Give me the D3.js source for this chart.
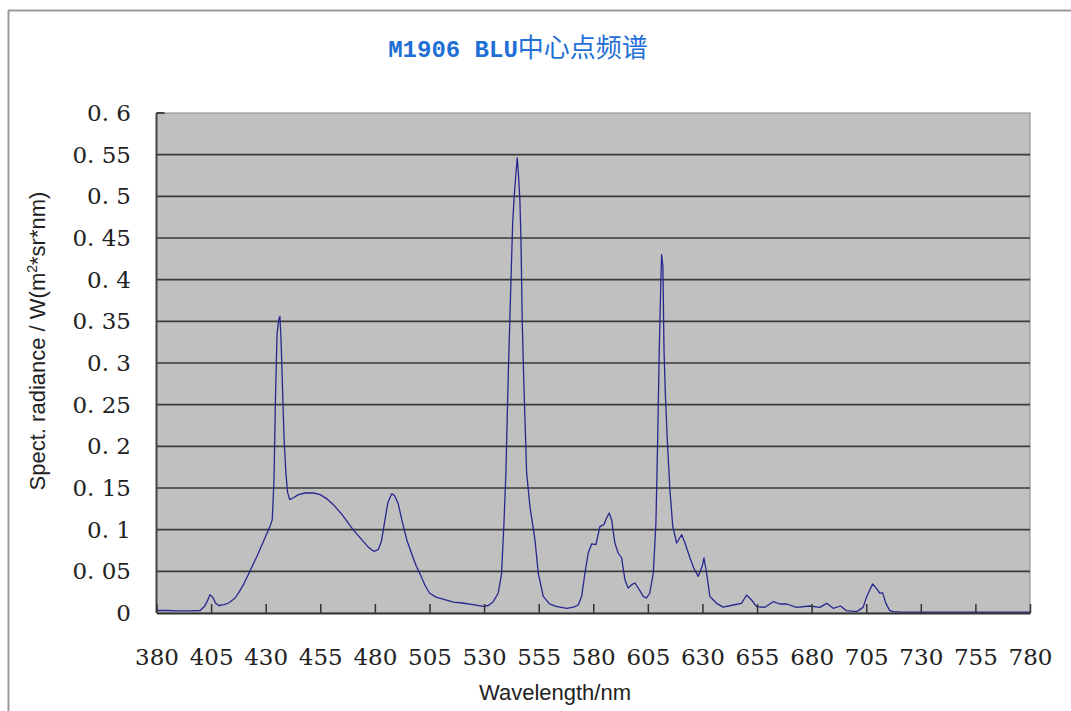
<!DOCTYPE html>
<html>
<head>
<meta charset="utf-8">
<script src="https://cdn.jsdelivr.net/npm/d3@7"></script>
<style>
  html, body { margin: 0; padding: 0; background: #fff; }
  svg { display: block; }
</style>
</head>
<body>
<svg id="chart" width="1071" height="711"></svg>
<script>
// spectrum readings, wavelength (nm) and radiance
const wavelengths = [
  380, 385, 390, 395, 400, 402, 403, 404.5, 406, 407, 408.5, 411, 413, 416, 418, 420,
  422, 424, 426, 428, 430, 432, 433, 433.8, 434.5, 435.2, 436, 436.5, 437, 437.6, 438.4,
  439.2, 440, 441, 442.5, 445, 448, 452, 455, 458, 461, 465, 470, 474, 477, 479.5, 481.5,
  483, 484.5, 486, 487.7, 489, 490.7, 492.5, 494.6, 497, 499, 501, 503, 505, 508, 512,
  516, 520, 525, 529.6, 532, 534.2, 536.5, 538, 539.1, 540, 541.1, 542.2, 543.1, 543.8,
  544.6, 545.2, 545.7, 546.4, 546.9, 547.5, 548.3, 549.5, 551, 553.3, 554.8, 557.1, 560,
  563, 567.8, 571, 573.1, 574.7, 576.2, 577.7, 579.3, 581.2, 583.1, 584.9, 586.1, 587.3,
  588.4, 589.9, 591.4, 593, 594.5, 596, 597.6, 599.1, 600.6, 602.9, 604.4, 605.9, 607.5,
  608.7, 609.5, 610.2, 610.9, 611.3, 611.9, 612.4, 613, 613.9, 615.1, 616.4, 618.2, 620.5,
  622, 624.3, 626, 628.1, 629.9, 630.7, 631.9, 633.4, 634.2, 636.5, 639.5, 644.1, 647.9,
  650.2, 652.5, 654.8, 658.6, 662.4, 665.5, 668.6, 673.1, 679.2, 683.8, 686.9, 689.9,
  693.2, 696, 700.6, 703.6, 705.2, 707.9, 709.7, 711.3, 712.5, 714, 715.8, 717.4, 720,
  740, 760, 780
];
const radiance = [
  0.003, 0.003, 0.0025, 0.0025, 0.003, 0.008, 0.013, 0.022, 0.018, 0.012, 0.009, 0.010, 0.012, 0.018, 0.026, 0.035,
  0.046, 0.057, 0.068, 0.080, 0.092, 0.104, 0.112, 0.16, 0.26, 0.335, 0.352, 0.356, 0.33, 0.28, 0.21,
  0.17, 0.145, 0.136, 0.138, 0.142, 0.144, 0.144, 0.142, 0.137, 0.130, 0.118, 0.100, 0.088, 0.079, 0.074, 0.076,
  0.086, 0.110, 0.133, 0.143, 0.141, 0.131, 0.110, 0.088, 0.070, 0.056, 0.045, 0.033, 0.024, 0.019, 0.016,
  0.013, 0.012, 0.010, 0.008, 0.009, 0.0136, 0.024, 0.047, 0.107, 0.168, 0.288, 0.388, 0.468, 0.50,
  0.528, 0.546, 0.528, 0.496, 0.448, 0.348, 0.268, 0.168, 0.128, 0.088, 0.048, 0.020, 0.011,
  0.008, 0.0056, 0.007, 0.0096, 0.020, 0.048, 0.072, 0.083, 0.082, 0.104, 0.106, 0.114, 0.120,
  0.112, 0.084, 0.072, 0.066, 0.040, 0.030, 0.034, 0.036, 0.030, 0.020, 0.018, 0.024, 0.048,
  0.108, 0.208, 0.312, 0.392, 0.430, 0.416, 0.316, 0.264, 0.208, 0.148, 0.104, 0.084, 0.094,
  0.084, 0.066, 0.054, 0.044, 0.056, 0.066, 0.048, 0.020, 0.0176, 0.0116, 0.007, 0.0096, 0.0116,
  0.0216, 0.0156, 0.0076, 0.0068, 0.0136, 0.0108, 0.0108, 0.0068, 0.0084, 0.0068, 0.0116, 0.0056,
  0.0084, 0.0028, 0.0016, 0.0068, 0.0196, 0.0348, 0.0296, 0.0236, 0.0244, 0.0116, 0.0028, 0.0016, 0.0012,
  0.001, 0.001, 0.001
];

const xTicks = d3.range(380, 781, 25);
const yTicks = d3.range(0, 13).map(i => i * 0.05);
const yTickLabels = ["0", "0. 05", "0. 1", "0. 15", "0. 2", "0. 25", "0. 3",
  "0. 35", "0. 4", "0. 45", "0. 5", "0. 55", "0. 6"];

const plot = { left: 156.5, right: 1030, top: 113, bottom: 613 };

const svg = d3.select('#chart');

// outer frame (top and left edges only show)
svg.append('line')
  .attr('x1', 8).attr('x2', 1071).attr('y1', 10.5).attr('y2', 10.5)
  .attr('stroke', '#9a9a9a').attr('stroke-width', 2);
svg.append('line')
  .attr('x1', 8.5).attr('x2', 8.5).attr('y1', 10).attr('y2', 711)
  .attr('stroke', '#9a9a9a').attr('stroke-width', 2);

const xScale = d3.scaleLinear().domain([380, 780]).range([plot.left, plot.right]);
const yScale = d3.scaleLinear().domain([0, 0.6]).range([plot.bottom, plot.top]);

// plot background
svg.append('rect')
  .attr('x', plot.left).attr('y', plot.top)
  .attr('width', plot.right - plot.left).attr('height', plot.bottom - plot.top)
  .attr('fill', '#c0c0c0')
  .attr('stroke', '#8a8a8a').attr('stroke-width', 1);

// gridlines
svg.append('g')
  .selectAll('line')
  .data(yTicks.slice(1, -1))
  .join('line')
  .attr('x1', plot.left).attr('x2', plot.right)
  .attr('y1', d => yScale(d)).attr('y2', d => yScale(d))
  .attr('stroke', '#3a3a3a').attr('stroke-width', 1.6);

// y labels
svg.append('g')
  .selectAll('text')
  .data(yTicks)
  .join('text')
  .attr('x', 131)
  .attr('y', d => yScale(d) + 8)
  .attr('text-anchor', 'end')
  .attr('font-family', '"DejaVu Serif", serif')
  .attr('font-size', 23)
  .attr('fill', '#222')
  .text((d, i) => yTickLabels[i]);

// left edge of plot
svg.append('line')
  .attr('x1', plot.left).attr('x2', plot.left)
  .attr('y1', plot.top).attr('y2', plot.bottom)
  .attr('stroke', '#444').attr('stroke-width', 2);
svg.append('line')
  .attr('x1', plot.left).attr('x2', plot.left + 8)
  .attr('y1', plot.top).attr('y2', plot.top)
  .attr('stroke', '#444').attr('stroke-width', 2);

// spectrum line
const line = d3.line()
  .x((d, i) => xScale(wavelengths[i]))
  .y(d => yScale(d));

svg.append('path')
  .datum(radiance)
  .attr('d', line)
  .attr('fill', 'none')
  .attr('stroke', '#27278f')
  .attr('stroke-width', 1.3)
  .attr('stroke-linejoin', 'round');

// x axis, ticks pointing up into the plot
const xAxis = svg.append('g')
  .attr('transform', `translate(0,${plot.bottom})`)
  .call(d3.axisBottom(xScale)
    .tickValues(xTicks)
    .tickSizeInner(-9)
    .tickSizeOuter(0)
    .tickPadding(36));
xAxis.select('.domain').attr('stroke', '#333').attr('stroke-width', 2);
xAxis.selectAll('.tick line').attr('stroke', '#333').attr('stroke-width', 1.5);
xAxis.selectAll('.tick text')
  .attr('font-family', '"DejaVu Serif", serif')
  .attr('font-size', 23)
  .attr('fill', '#222');

// titles
const title = svg.append('text')
  .attr('x', 518).attr('y', 57)
  .attr('text-anchor', 'middle')
  .attr('fill', '#1f6fd6');
title.append('tspan')
  .attr('font-family', '"Liberation Mono", monospace')
  .attr('font-weight', 'bold')
  .attr('font-size', 24)
  .text('M1906 BLU');
title.append('tspan')
  .attr('font-family', '"Noto Sans CJK SC", sans-serif')
  .attr('font-size', 26)
  .text('中心点频谱');

svg.append('text')
  .attr('x', 555).attr('y', 700)
  .attr('text-anchor', 'middle')
  .attr('font-family', '"Liberation Sans", Arial, sans-serif')
  .attr('font-size', 22)
  .attr('fill', '#222')
  .text('Wavelength/nm');

const yLabel = svg.append('text')
  .attr('transform', 'translate(45,341) rotate(-90)')
  .attr('text-anchor', 'middle')
  .attr('font-family', '"Liberation Sans", Arial, sans-serif')
  .attr('font-size', 22)
  .attr('fill', '#222');
yLabel.append('tspan').text('Spect. radiance / W(m');
yLabel.append('tspan').attr('font-size', 14).attr('dy', -8).text('2');
yLabel.append('tspan').attr('dy', 8).text('*sr*nm)');
</script>
</body>
</html>
